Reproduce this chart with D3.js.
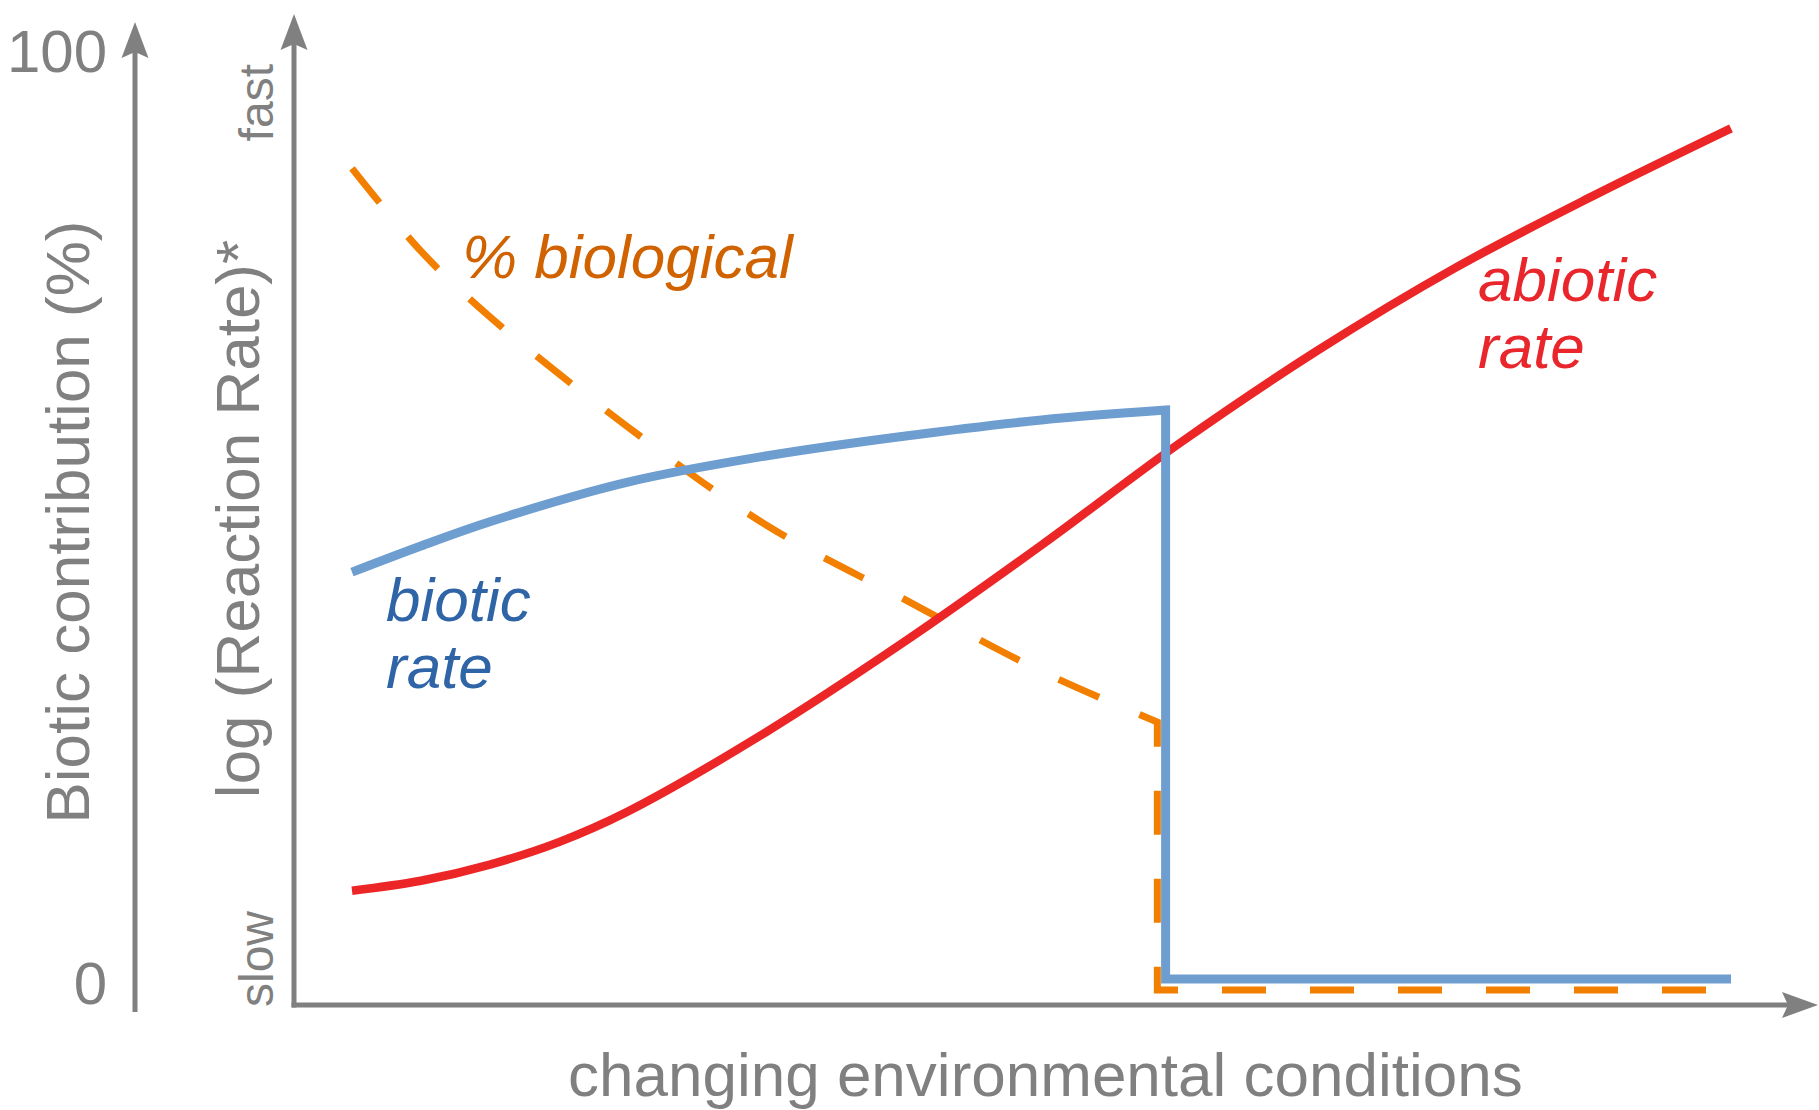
<!DOCTYPE html>
<html>
<head>
<meta charset="utf-8">
<script src="https://cdn.jsdelivr.net/npm/d3@7"></script>
<style>
  html, body { margin: 0; padding: 0; background: #ffffff; }
  svg { display: block; }
  text { font-family: "Liberation Sans", Arial, Helvetica, sans-serif; }
</style>
</head>
<body>
<svg id="chart" width="1819" height="1110"></svg>
<script>
// ---------------- data ----------------
// x: changing environmental conditions (0..100, arbitrary units)
const abioticX    = [0, 5, 10, 15, 20, 30, 40, 50, 60, 70, 80, 90, 100];
const abioticRate = [12.7, 13.8, 15.6, 18.1, 21.5, 30.3, 40.3, 51.1, 62.4, 72.7, 81.9, 89.9, 97.4];

const bioticX     = [0, 5, 10, 20, 30, 40, 50, 59, 59, 100];
const bioticRate  = [48.1, 51.0, 53.7, 58.1, 61.0, 63.2, 65.0, 66.1, 2.9, 2.9];
const bioticCurveN = 8;   // first 8 points form the smooth part

const pctX        = [0, 5, 10, 20, 30, 40, 50, 58.4, 58.4, 100];
const pctBio      = [87.4, 78.6, 71.6, 59.9, 49.5, 41.6, 33.9, 28.5, 0, 0];
const pctCurveN   = 8;

const pctTicks    = [0, 100];
const pctTickLabels = ["0", "100"];
const rateTickLabels = ["slow", "fast"];

const xTitle    = "changing environmental conditions";
const pctTitle  = "Biotic contribution (%)";
const rateTitle = "log (Reaction Rate)*";
const seriesLabels = {
  pct: ["% biological"],
  abiotic: ["abiotic", "rate"],
  biotic: ["biotic", "rate"]
};

// ---------------- layout ----------------
const svg = d3.select("#chart");
const GRAY = "#808080";
const RED = "#ec2527", BLUE = "#6e9dd0", ORANGE = "#f27f00";
const RED_TXT = "#e8262b", BLUE_TXT = "#2f64a6", ORANGE_TXT = "#d06300";

const x     = d3.scaleLinear().domain([0, 100]).range([352, 1731]);
const yRate = d3.scaleLinear().domain([0, 100]).range([1005, 105]);
const yPct  = d3.scaleLinear().domain([0, 100]).range([990, 50]);

const rateAxisX = 294, pctAxisX = 135;
const axisY = yRate(0);
const xAxisEnd = 1818, rateAxisTop = 14, pctAxisTop = 22, pctAxisBottom = 1012;
const AW = 5;

// axes lines
const axes = svg.append("g").attr("stroke", GRAY).attr("stroke-width", AW).attr("fill", "none");
axes.append("line").attr("x1", rateAxisX).attr("x2", rateAxisX)
  .attr("y1", axisY + AW / 2).attr("y2", rateAxisTop + 20);
axes.append("line").attr("x1", rateAxisX - AW / 2).attr("x2", xAxisEnd - 20)
  .attr("y1", axisY).attr("y2", axisY);
axes.append("line").attr("x1", pctAxisX).attr("x2", pctAxisX)
  .attr("y1", pctAxisBottom).attr("y2", pctAxisTop + 20);

// arrow heads
function upArrow(cx, tip) {
  return `M${cx},${tip} L${cx + 13.5},${tip + 36} L${cx},${tip + 30} L${cx - 13.5},${tip + 36} Z`;
}
function rightArrow(tip, cy) {
  return `M${tip},${cy} L${tip - 36},${cy + 13} L${tip - 30},${cy} L${tip - 36},${cy - 13} Z`;
}
const heads = svg.append("g").attr("fill", GRAY);
heads.append("path").attr("d", upArrow(rateAxisX, rateAxisTop));
heads.append("path").attr("d", upArrow(pctAxisX, pctAxisTop));
heads.append("path").attr("d", rightArrow(xAxisEnd, axisY));

// ---------------- series ----------------
function pathWithStep(xs, vs, yScale, nCurve) {
  const pts = xs.map((d, i) => [d, vs[i]]);
  const gen = d3.line().x(d => x(d[0])).y(d => yScale(d[1]));
  const curve = gen.curve(d3.curveCatmullRom.alpha(0.5))(pts.slice(0, nCurve));
  if (nCurve >= pts.length) return curve;
  const tail = d3.line().x(d => x(d[0])).y(d => yScale(d[1]))(pts.slice(nCurve - 1));
  return curve + tail.replace(/^M[^L]*/, "");
}

svg.append("path")
  .attr("d", pathWithStep(pctX, pctBio, yPct, pctCurveN))
  .attr("fill", "none").attr("stroke", ORANGE).attr("stroke-width", 7)
  .attr("stroke-dasharray", "44,44").attr("stroke-linejoin", "miter");

svg.append("path")
  .attr("d", pathWithStep(abioticX, abioticRate, yRate, abioticX.length))
  .attr("fill", "none").attr("stroke", RED).attr("stroke-width", 8.5);

svg.append("path")
  .attr("d", pathWithStep(bioticX, bioticRate, yRate, bioticCurveN))
  .attr("fill", "none").attr("stroke", BLUE).attr("stroke-width", 9)
  .attr("stroke-linejoin", "miter");

// ---------------- texts ----------------
// pct axis tick labels
svg.append("g").selectAll("text").data(pctTicks).join("text")
  .attr("x", 107)
  .attr("y", (d, i) => yPct(d) + (d === 0 ? 14 : 22))
  .attr("text-anchor", "end").attr("font-size", 60).attr("fill", GRAY)
  .text((d, i) => pctTickLabels[i]);

// rate axis labels (rotated)
svg.append("text")
  .attr("transform", `translate(273,${yRate(0) + 2}) rotate(-90)`)
  .attr("text-anchor", "start").attr("font-size", 48).attr("fill", GRAY)
  .text(rateTickLabels[0]);
svg.append("text")
  .attr("transform", `translate(273,64) rotate(-90)`)
  .attr("text-anchor", "end").attr("font-size", 48).attr("fill", GRAY)
  .text(rateTickLabels[1]);

// axis titles
svg.append("text")
  .attr("transform", `translate(89,522) rotate(-90)`)
  .attr("text-anchor", "middle").attr("font-size", 62).attr("fill", GRAY)
  .text(pctTitle);
svg.append("text")
  .attr("transform", `translate(259,519) rotate(-90)`)
  .attr("text-anchor", "middle").attr("font-size", 62).attr("fill", GRAY)
  .text(rateTitle);
svg.append("text")
  .attr("x", 568).attr("y", 1096)
  .attr("font-size", 62).attr("fill", GRAY)
  .text(xTitle);

// series labels
function multi(lines, x0, y0, color) {
  const t = svg.append("text").attr("font-size", 62).attr("font-style", "italic")
    .attr("fill", color);
  lines.forEach((s, i) => t.append("tspan").attr("x", x0).attr("y", y0 + i * 67).text(s));
}
multi(seriesLabels.pct, 462, 278, ORANGE_TXT);
multi(seriesLabels.abiotic, 1478, 301, RED_TXT);
multi(seriesLabels.biotic, 386, 621, BLUE_TXT);
</script>
</body>
</html>
